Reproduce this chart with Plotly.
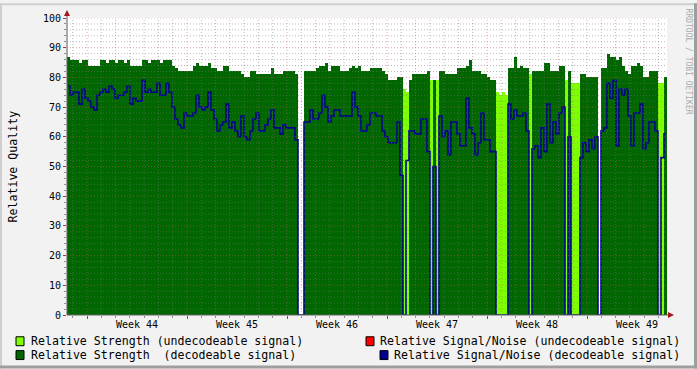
import plotly.graph_objects as go
import pandas as pd

# ---------------- data (one sample per ~5 h column) ----------------
start = "2007-10-27 14:24"
step_s = 18144  # seconds per sample

strength_dec = [
    87, 86, 86, 86, 85, 86, 86, 84, 84, 84,
    84, 86, 86, 85, 86, 86, 85, 86, 86, 85,
    86, 84, 84, 84, 84, 86, 86, 85, 86, 86,
    86, 85, 86, 86, 86, 84, 83, 82, 82, 82,
    82, 82, 84, 85, 84, 84, 84, 85, 83, 83,
    82, 82, 84, 84, 82, 82, 82, 82, 81, 80,
    80, 82, 82, 81, 81, 81, 81, 81, 83, 81,
    81, 81, 82, 82, 82, 82, 81, None, None, 82,
    82, 82, 82, 83, 84, 84, 85, 82, 84, 84,
    84, 82, 82, 82, 83, 84, 83, 84, 82, 82,
    82, 83, 83, 83, 83, 82, 81, 79, 79, 79,
    80, 80, None, None, 79, 81, 81, 81, 81, 81,
    82, None, 79, None, 82, 82, 81, 81, 81, 81,
    83, 83, 83, 84, 86, 82, 82, 82, 81, 81,
    80, 79, 79, None, None, None, None, 83, 83, 87,
    83, 84, 83, 83, None, 82, 82, 82, 82, 85,
    85, 82, 82, 82, 84, 84, None, 82, None, None,
    None, 81, 81, 80, 80, 80, 80, None, 83, 83,
    88, 87, 87, 86, 87, 84, 82, 81, 84, 84,
    85, 84, 80, 80, 82, 82, 82, None, None, 80,
]

strength_undec = [
    None, None, None, None, None, None, None, None, None, None,
    None, None, None, None, None, None, None, None, None, None,
    None, None, None, None, None, None, None, None, None, None,
    None, None, None, None, None, None, None, None, None, None,
    None, None, None, None, None, None, None, None, None, None,
    None, None, None, None, None, None, None, None, None, None,
    None, None, None, None, None, None, None, None, None, None,
    None, None, None, None, None, None, None, None, None, None,
    None, None, None, None, None, None, None, None, None, None,
    None, None, None, None, None, None, None, None, None, None,
    None, None, None, None, None, None, None, None, None, None,
    None, None, 76, 75, None, None, None, None, None, None,
    None, 79, None, 79, None, None, None, None, None, None,
    None, None, None, None, None, None, None, None, None, None,
    None, None, None, 75, 74, 75, 74, None, None, None,
    None, None, None, None, 81, None, None, None, None, None,
    None, None, None, None, None, None, 79, None, 78, 78,
    78, None, None, None, None, None, None, None, None, None,
    None, None, None, None, None, None, None, None, None, None,
    None, None, None, None, None, None, None, 78, 78, None,
]

snr_dec = [
    77, 74, 75, 75, 71, 76, 73, 72, 70, 69,
    74, 75, 76, 75, 77, 76, 73, 74, 74, 75,
    77, 71, 73, 72, 72, 79, 75, 76, 75, 75,
    78, 74, 74, 78, 75, 70, 66, 64, 63, 68,
    67, 67, 68, 74, 70, 69, 70, 75, 69, 66,
    62, 64, 65, 71, 63, 65, 62, 60, 67, 60,
    59, 62, 66, 68, 62, 62, 64, 66, 69, 63,
    63, 61, 64, 63, 63, 63, 59, 0, 0, 65,
    65, 69, 66, 66, 68, 74, 70, 65, 67, 69,
    69, 67, 67, 67, 67, 75, 70, 67, 62, 62,
    64, 68, 68, 67, 67, 62, 60, 58, 58, 58,
    65, 47, 0, 52, 62, 62, 61, 61, 66, 66,
    55, 0, 50, 0, 67, 60, 62, 54, 65, 65,
    61, 57, 57, 73, 63, 61, 54, 58, 68, 59,
    59, 55, 55, 0, 0, 0, 0, 71, 66, 69,
    67, 67, 68, 62, 0, 56, 57, 53, 63, 55,
    71, 58, 65, 61, 68, 70, 0, 60, 0, 0,
    0, 53, 58, 55, 59, 56, 60, 0, 62, 63,
    78, 73, 79, 57, 76, 74, 76, 67, 57, 68,
    68, 71, 56, 58, 65, 65, 62, 0, 53, 61,
]

legend_labels = [
    "Relative Strength (undecodeable signal)",
    "Relative Signal/Noise (undecodeable signal)",
    "Relative Strength  (decodeable signal)",
    "Relative Signal/Noise (decodeable signal)",
]
y_title = "Relative Quality"
watermark = "RRDTOOL / TOBI OETIKER"

# ---------------- styles ----------------
DARK = "#006600"
LIGHT = "#80FF00"
BLUE = "#000090"
RED = "#FF0000"
MONO = "DejaVu Sans Mono"
W, H = 697, 369
L, R, T, B = 67, 667, 15, 315

def px(p):
    return (p - L) / (R - L)

def py(p):
    return (B - p) / (B - T)

t0 = pd.Timestamp(start)
step = pd.Timedelta(seconds=step_s)
n = len(snr_dec)
xc = [t0 + step * (i + 0.5) for i in range(n)]
x_end = t0 + step * n

fig = go.Figure()
fig.add_trace(go.Bar(x=xc, y=strength_dec, width=step_s * 1000,
                     marker=dict(color=DARK, line=dict(width=0)), name=legend_labels[2]))
fig.add_trace(go.Bar(x=xc, y=strength_undec, width=step_s * 1000,
                     marker=dict(color=LIGHT, line=dict(width=0)), name=legend_labels[0]))
fig.add_trace(go.Scatter(x=xc, y=snr_dec, mode="lines",
                         line=dict(color=BLUE, width=1.6, shape="hvh"), name=legend_labels[3]))

shapes = []
# grid above the data (rrdtool style)
GRID = "rgba(120,120,120,0.5)"
MGRID = "rgba(215,90,90,0.5)"
day = pd.Timestamp("2007-10-28")
while day < x_end:
    major = day.dayofweek == 0
    shapes.append(dict(type="line", xref="x", yref="paper", x0=day, x1=day, y0=0, y1=1,
                       layer="above", line=dict(color=MGRID if major else GRID, width=1, dash="1px,2px")))
    day += pd.Timedelta(days=1)
for v in range(2, 101, 2):
    major = v % 10 == 0
    shapes.append(dict(type="line", xref="paper", yref="y", x0=0, x1=1, y0=v, y1=v,
                       layer="above", line=dict(color=MGRID if major else GRID, width=1, dash="1px,2px")))

# axes lines and arrows
AX = "#606060"
ARROW = "#A01818"
shapes.append(dict(type="line", xref="paper", yref="paper", x0=px(L), x1=px(L), y0=py(B), y1=py(10),
                   layer="above", line=dict(color=AX, width=1)))
shapes.append(dict(type="line", xref="paper", yref="paper", x0=px(L), x1=px(670), y0=py(B), y1=py(B),
                   layer="above", line=dict(color=AX, width=1)))
shapes.append(dict(type="path", xref="paper", yref="paper",
                   path=f"M {px(64)} {py(13)} L {px(70)} {py(13)} L {px(67)} {py(7)} Z",
                   fillcolor=ARROW, line=dict(width=0), layer="above"))
shapes.append(dict(type="path", xref="paper", yref="paper",
                   path=f"M {px(668)} {py(312)} L {px(668)} {py(318)} L {px(674)} {py(315)} Z",
                   fillcolor=ARROW, line=dict(width=0), layer="above"))

# frame shading
for (x0, y0, x1, y1, c) in [(0, 0, W, 2, "#CFCFCF"), (0, 0, 2, H, "#CFCFCF"),
                            (0, H - 3, W, H, "#9E9E9E"), (W - 3, 0, W, H, "#9E9E9E")]:
    shapes.append(dict(type="rect", xref="paper", yref="paper", x0=px(x0), x1=px(x1),
                       y0=py(y1), y1=py(y0), fillcolor=c, line=dict(width=0), layer="above"))

# legend boxes
legend_boxes = [(16, 337, LIGHT), (366, 337, RED), (16, 351, DARK), (380, 351, BLUE)]
for (bx, by, c) in legend_boxes:
    shapes.append(dict(type="rect", xref="paper", yref="paper", x0=px(bx), x1=px(bx + 8),
                       y0=py(by + 9), y1=py(by), fillcolor=c, line=dict(color="black", width=1)))

annotations = []
legend_text_pos = [(30, 341), (379, 341), (30, 355), (393, 355)]
for (tx, ty), txt in zip(legend_text_pos, legend_labels):
    annotations.append(dict(text=txt, xref="paper", yref="paper", x=px(tx), y=py(ty),
                            xanchor="left", yanchor="middle", showarrow=False, borderpad=0,
                            font=dict(family=MONO, size=11.6, color="black")))
annotations.append(dict(text=y_title, xref="paper", yref="paper", x=px(12), y=py(165),
                        xanchor="center", yanchor="middle", textangle=-90, showarrow=False,
                        font=dict(family=MONO, size=11.6, color="black")))
annotations.append(dict(text=watermark, xref="paper", yref="paper", x=px(688), y=py(59),
                        xanchor="center", yanchor="middle", textangle=90, showarrow=False,
                        font=dict(family=MONO, size=8, color="#AAAAAA")))

fig.update_layout(
    width=W, height=H,
    margin=dict(l=L, r=W - R, t=T, b=H - B, pad=0),
    paper_bgcolor="#F2F2F2", plot_bgcolor="white",
    barmode="overlay", bargap=0, showlegend=False,
    shapes=shapes, annotations=annotations,
    xaxis=dict(type="date", range=[t0, x_end], showgrid=False, zeroline=False, showline=False,
               tick0="2007-10-29", dtick=7 * 86400000, ticks="outside", ticklen=3,
               tickcolor="#C03030", tickformat="Week %V", ticklabelmode="period",
               ticklabelstandoff=-3,
               tickfont=dict(family=MONO, size=10, color="black"),
               minor=dict(dtick=86400000, ticks="outside", ticklen=2, tickcolor="#909090", showgrid=False)),
    yaxis=dict(range=[0, 100], showgrid=False, zeroline=False, showline=False,
               tick0=0, dtick=10, ticks="outside", ticklen=3, tickcolor="#C03030",
               tickfont=dict(family=MONO, size=10, color="black"),
               minor=dict(dtick=2, ticks="outside", ticklen=2, tickcolor="#909090", showgrid=False)),
)

fig.write_html("out.html")
